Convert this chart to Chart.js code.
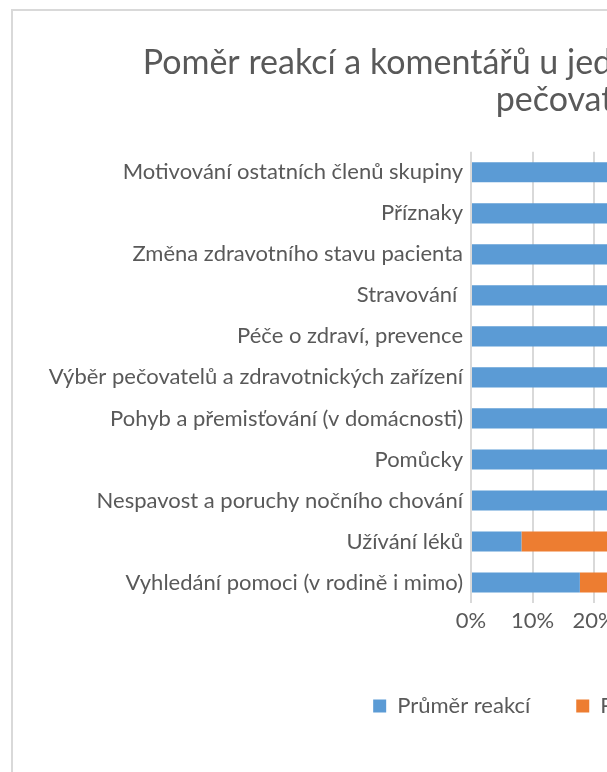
<!DOCTYPE html>
<html lang="cs">
<head>
<meta charset="utf-8">
<title>Poměr reakcí a komentářů</title>
<script src="https://cdn.jsdelivr.net/npm/chart.js@4.4.1/dist/chart.umd.min.js"></script>
<style>
  html, body { margin: 0; padding: 0; background: #ffffff; overflow: hidden; }
  #frame {
    position: absolute; left: 11px; top: 9px;
    width: 1160px; height: 780px;
    border: 2px solid #d9d9d9; background: #ffffff;
  }
  #chart { display: block; }
</style>
</head>
<body>
<div id="frame"><canvas id="chart" width="1160" height="780" style="width:1160px;height:780px"></canvas></div>
<script>
// Témata příspěvků (shora dolů)
const categories = [
  'Motivování ostatních členů skupiny',
  'Příznaky',
  'Změna zdravotního stavu pacienta',
  'Stravování ',
  'Péče o zdraví, prevence',
  'Výběr pečovatelů a zdravotnických zařízení',
  'Pohyb a přemisťování (v domácnosti)',
  'Pomůcky',
  'Nespavost a poruchy nočního chování',
  'Užívání léků',
  'Vyhledání pomoci (v rodině i mimo)'
];

// Podíl průměru reakcí a komentářů v procentech (součet 100 %)
const reactionShare = [76, 72, 70, 66, 63, 58, 55, 52, 47, 8.2, 17.7];
const commentShare  = [24, 28, 30, 34, 37, 42, 45, 48, 53, 91.8, 82.3];

const seriesNames = ['Průměr reakcí', 'Průměr komentářů'];
const titleLines = ['Poměr reakcí a komentářů u jednotlivých témat ve skupině', 'pečovatelů'];

const percentTicks = [0, 10, 20, 30, 40, 50, 60, 70, 80, 90, 100];

const TEXT = '#595959';
const FONT = 'Lato, "Open Sans", sans-serif';

function draw() {
  new Chart(document.getElementById('chart'), {
    type: 'bar',
    data: {
      labels: categories,
      datasets: [
        { label: seriesNames[0], data: reactionShare, backgroundColor: '#5B9BD5' },
        { label: seriesNames[1], data: commentShare, backgroundColor: '#ED7D31' }
      ]
    },
    options: {
      indexAxis: 'y',
      responsive: false,
      animation: false,
      devicePixelRatio: 1,
      layout: { padding: { left: 0, right: 32, top: 0, bottom: 64 } },
      datasets: { bar: { barPercentage: 1, categoryPercentage: 0.49, borderWidth: 0 } },
      scales: {
        x: {
          stacked: true,
          min: 0, max: 100,
          afterBuildTicks: (s) => { s.ticks = percentTicks.map(v => ({ value: v })); },
          afterFit: (s) => { s.height = 46; },
          grid: { color: '#d9d9d9', lineWidth: 2, drawTicks: false },
          border: { display: false },
          ticks: {
            padding: 5,
            autoSkip: false,
            maxRotation: 0,
            minRotation: 0,
            color: TEXT,
            font: { family: FONT, size: 22 },
            callback: (v) => v + '%'
          }
        },
        y: {
          stacked: true,
          afterFit: (s) => { s.width = 458; },
          grid: { display: false, drawTicks: false },
          border: { display: false },
          ticks: {
            padding: 8,
            color: TEXT,
            font: { family: FONT, size: 22 }
          }
        },
        // empty margin on the right side of the plot
        yMargin: {
          type: 'category',
          position: 'right',
          labels: categories,
          afterFit: (s) => { s.width = 55; },
          grid: { display: false, drawTicks: false },
          border: { display: false },
          ticks: { display: false }
        }
      },
      plugins: {
        title: {
          display: true,
          text: titleLines,
          color: TEXT,
          font: { family: FONT, size: 34, weight: 'normal', lineHeight: 1.1 },
          padding: { top: 33, bottom: 33 }
        },
        legend: {
          position: 'bottom',
          labels: {
            boxWidth: 13, boxHeight: 13,
            padding: 46,
            color: TEXT,
            font: { family: FONT, size: 22 }
          }
        },
        tooltip: { enabled: false }
      }
    }
  });
}

if (document.fonts && document.fonts.load) {
  Promise.all([
    document.fonts.load('22px Lato'),
    document.fonts.load('34px Lato')
  ]).then(draw, draw);
} else {
  draw();
}
</script>
</body>
</html>
